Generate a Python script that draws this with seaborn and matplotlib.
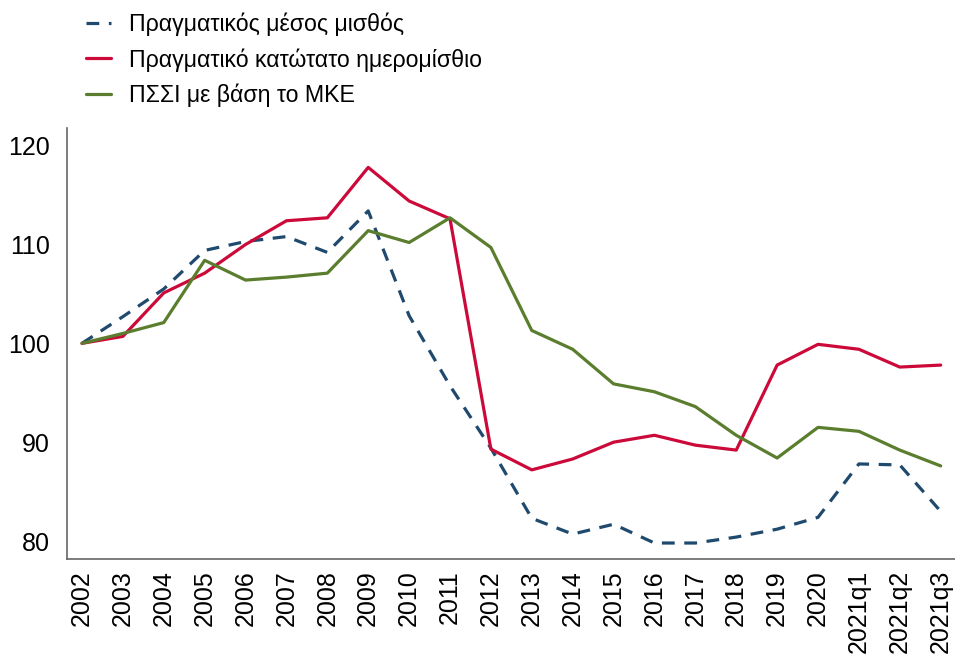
import pandas as pd
import matplotlib
matplotlib.use("Agg")
import matplotlib.pyplot as plt
import seaborn as sns

# ----------------------------
# Data (index, 2002 = 100)
# ----------------------------
periods = ['2002', '2003', '2004', '2005', '2006', '2007', '2008', '2009', '2010',
           '2011', '2012', '2013', '2014', '2015', '2016', '2017', '2018', '2019',
           '2020', '2021q1', '2021q2', '2021q3']
avg_wage = [100, 102.7, 105.5, 109.4, 110.3, 110.8, 109.2, 113.4, 102.8, 95.7,
            89.4, 82.3, 80.7, 81.7, 79.8, 79.8, 80.4, 81.2, 82.4, 87.8, 87.7, 83.0]
min_wage = [100, 100.7, 105.1, 107.1, 110.0, 112.4, 112.7, 117.8, 114.4, 112.6,
            89.3, 87.2, 88.3, 90.0, 90.7, 89.7, 89.2, 97.8, 99.9, 99.4, 97.6, 97.8]
ulc_hicp = [100, 101.0, 102.1, 108.4, 106.4, 106.7, 107.1, 111.4, 110.2, 112.7,
            109.7, 101.3, 99.4, 95.9, 95.1, 93.6, 90.7, 88.4, 91.5, 91.1, 89.2, 87.6]

names = ['Πραγματικός μέσος μισθός', 'Πραγματικό κατώτατο ημερομίσθιο', 'ΠΣΣΙ με βάση το ΜΚΕ']
colors = ['#1f4a6e', '#cc0a3a', '#5a7d2e']

df = pd.DataFrame({'period': periods, names[0]: avg_wage, names[1]: min_wage, names[2]: ulc_hicp})
df['pos'] = range(len(df))

sns.set_style("white")
plt.rcParams['font.family'] = ['Liberation Sans', 'DejaVu Sans']
plt.rcParams['text.color'] = 'black'

fig = plt.figure(figsize=(9.55, 6.59), dpi=100)
ax = fig.add_axes([0.070, 0.152, 0.93, 0.654])

sns.lineplot(data=df, x='pos', y=names[0], ax=ax, color=colors[0], linewidth=2.3,
             label=names[0], linestyle=(0, (4, 3)))
sns.lineplot(data=df, x='pos', y=names[1], ax=ax, color=colors[1], linewidth=2.3, label=names[1])
sns.lineplot(data=df, x='pos', y=names[2], ax=ax, color=colors[2], linewidth=2.3, label=names[2])

ax.set_xlim(-0.37, len(df) - 1 + 0.35)
ax.set_ylim(78.2, 121.8)
ax.set_xticks(df['pos'])
ax.set_xticklabels(df['period'], rotation=90)
ax.set_yticks([80, 90, 100, 110, 120])
ax.set_xlabel('')
ax.set_ylabel('')
ax.tick_params(axis='both', length=0, labelsize=18, labelcolor='black')
ax.tick_params(axis='y', pad=12)
ax.tick_params(axis='x', pad=8)

for s in ['top', 'right']:
    ax.spines[s].set_visible(False)
for s in ['left', 'bottom']:
    ax.spines[s].set_color('#666666')
    ax.spines[s].set_linewidth(1.2)

handles, labels = ax.get_legend_handles_labels()
ax.get_legend().remove()
fig.legend(handles, labels, loc='upper left', bbox_to_anchor=(0.068, 1.012), frameon=False,
           fontsize=16.7, handlelength=1.1, handletextpad=0.75, labelspacing=0.5)

fig.savefig('out.png', dpi=100)
